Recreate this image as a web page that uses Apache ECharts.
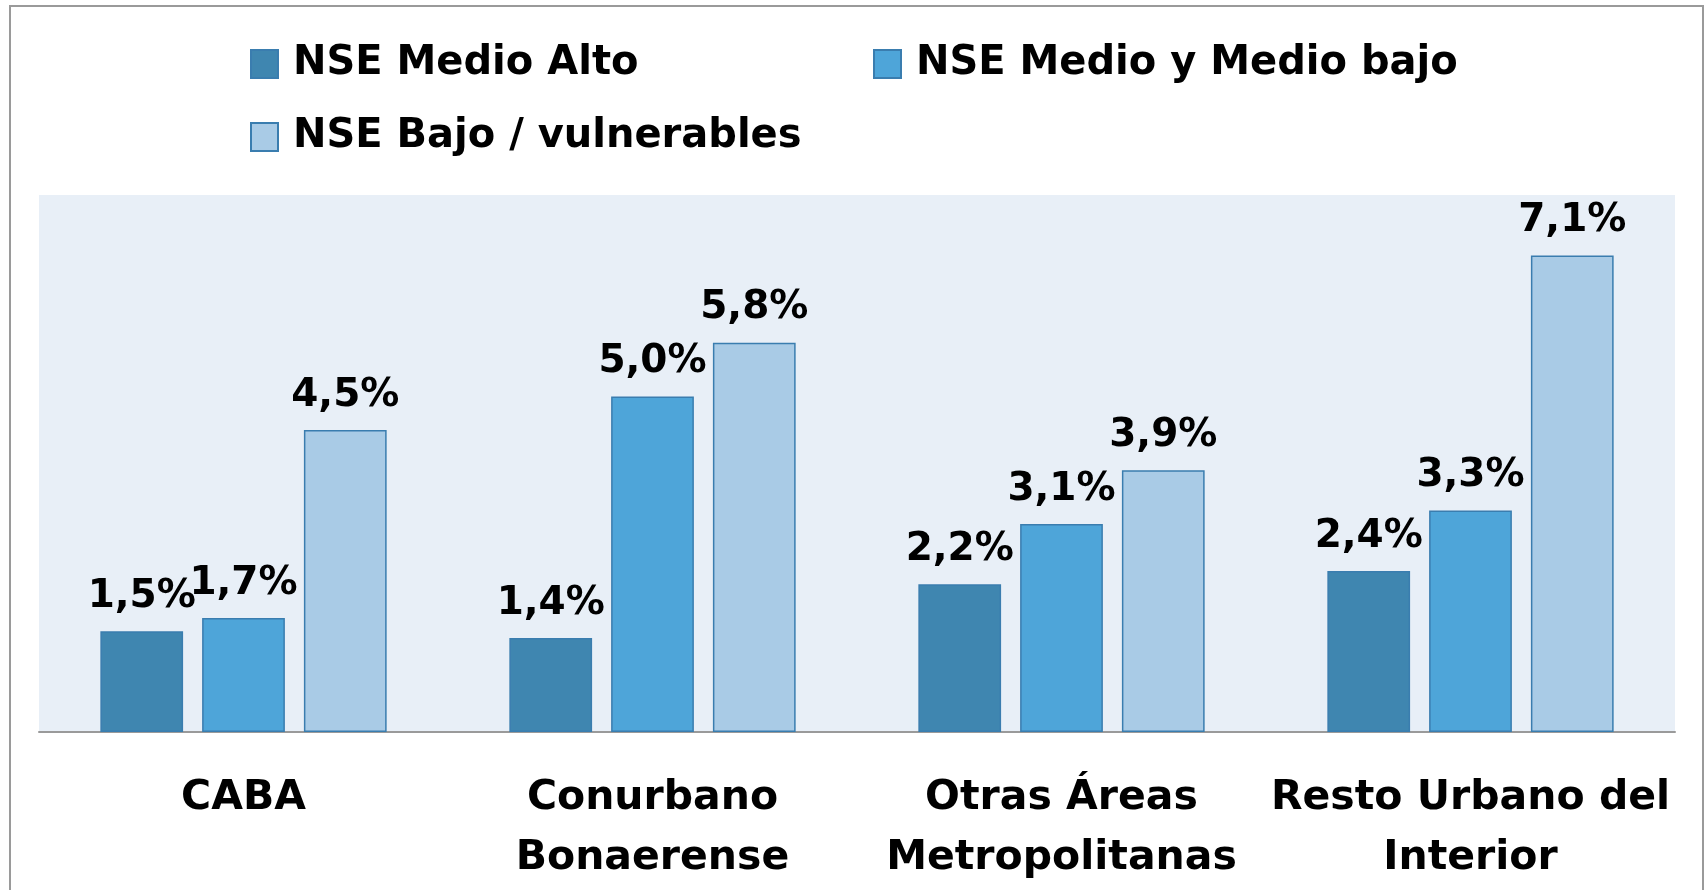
<!DOCTYPE html>
<html>
<head>
<meta charset="utf-8">
<script src="https://cdn.jsdelivr.net/npm/echarts@6/dist/echarts.min.js"></script>
<style>
html,body{margin:0;padding:0;background:#fff;}
#chart{width:1706px;height:890px;}
</style>
</head>
<body>
<div id="chart"></div>
<script>
const categories = ['CABA', 'Conurbano\nBonaerense', 'Otras Áreas\nMetropolitanas', 'Resto Urbano del\nInterior'];
const seriesNames = ['NSE Medio Alto', 'NSE Medio y Medio bajo', 'NSE Bajo / vulnerables'];
const medioAlto = [1.5, 1.4, 2.2, 2.4];
const medioBajo = [1.7, 5.0, 3.1, 3.3];
const bajoVulnerables = [4.5, 5.8, 3.9, 7.1];
const colors = ['#3F86B0', '#4EA5D9', '#A9CBE6'];

const FONT = 'DejaVu Sans';
const chart = echarts.init(document.getElementById('chart'), null, {renderer: 'canvas'});

function mkSeries(name, data, color) {
  return {
    name: name,
    type: 'bar',
    data: data,
    barGap: '23%',
    barCategoryGap: '30%',
    itemStyle: {color: color, borderColor: '#3A7DAF', borderWidth: 1.5},
    label: {
      show: true,
      position: 'top',
      distance: 15,
      fontFamily: FONT,
      fontWeight: 'bold',
      fontSize: 39,
      color: '#000',
      formatter: p => p.value.toFixed(1).replace('.', ',') + '%'
    }
  };
}

function mkLegend(name, left, top) {
  return {
    data: [name],
    left: left,
    top: top,
    padding: 0,
    itemWidth: 27,
    itemHeight: 28,
    icon: 'rect',
    textStyle: {fontFamily: FONT, fontWeight: 'bold', fontSize: 40, color: '#000', padding: [0, 0, 0, 10]},
    selectedMode: false
  };
}

chart.setOption({
  animation: false,
  graphic: [{
    type: 'rect',
    shape: {x: 10, y: 6, width: 1693, height: 900},
    style: {fill: 'none', stroke: '#9A9A9A', lineWidth: 2},
    silent: true
  }],
  legend: [
    mkLegend(seriesNames[0], 250, 44),
    mkLegend(seriesNames[1], 873, 44),
    mkLegend(seriesNames[2], 250, 117)
  ],
  grid: {
    left: 39, right: 31, top: 195, bottom: 158,
    show: true, backgroundColor: '#E8EFF7', borderWidth: 0
  },
  xAxis: {
    type: 'category',
    data: categories,
    axisLine: {lineStyle: {color: '#9A9A9A', width: 2}},
    axisTick: {show: false},
    axisLabel: {
      fontFamily: FONT, fontWeight: 'bold', fontSize: 41, color: '#000',
      lineHeight: 60, margin: 36, interval: 0,
      verticalAlign: 'top'
    }
  },
  yAxis: {
    type: 'value', min: 0, max: 8, interval: 1,
    show: false,
    splitLine: {show: false}
  },
  series: [
    mkSeries(seriesNames[0], medioAlto, colors[0]),
    mkSeries(seriesNames[1], medioBajo, colors[1]),
    mkSeries(seriesNames[2], bajoVulnerables, colors[2])
  ]
});
</script>
</body>
</html>
